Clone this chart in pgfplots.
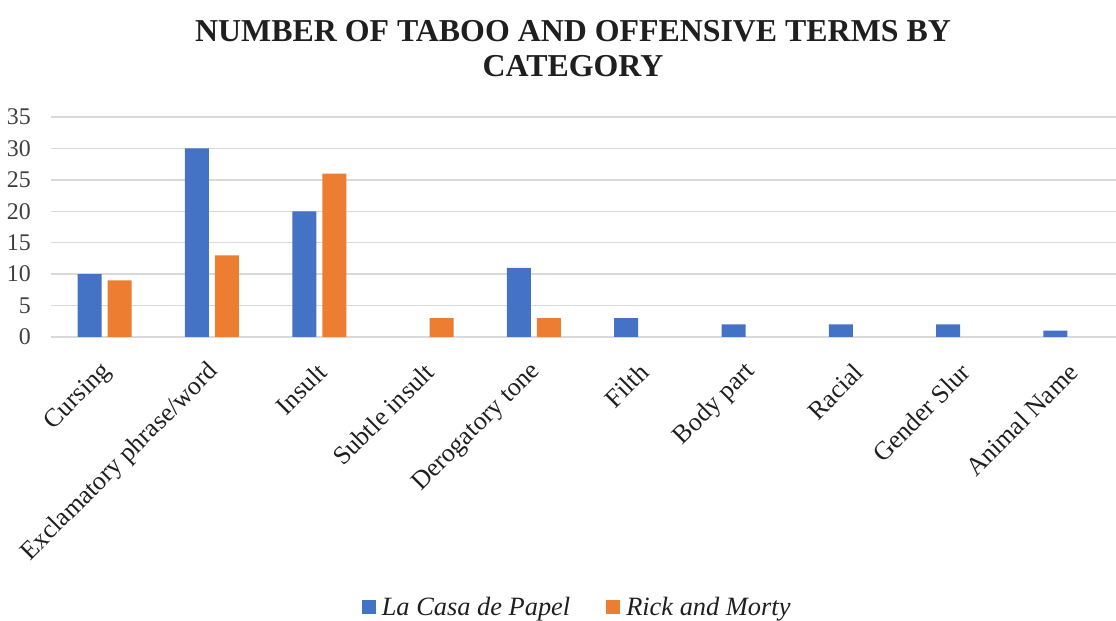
\documentclass[border=0pt]{standalone}
\usepackage{pgfplots}
\pgfplotsset{compat=1.18}
\usepackage{fontspec}
\setmainfont{Liberation Serif}
\definecolor{cblue}{HTML}{4472C4}
\definecolor{corange}{HTML}{ED7D31}
\definecolor{gridgray}{HTML}{D9D9D9}
\definecolor{ticktext}{HTML}{404040}
\definecolor{labeltext}{HTML}{1F1F1F}
\begin{document}
\begin{tikzpicture}[x=1bp,y=1bp]
\useasboundingbox (0,0) rectangle (1116,621);
\node[align=center, font=\fontsize{32}{35}\selectfont\bfseries, text=labeltext, anchor=north, inner sep=0]
  at (573,601) {NUMBER OF TABOO AND OFFENSIVE TERMS BY\\CATEGORY};
\begin{axis}[
  at={(51bp,284bp)}, anchor=south west,
  scale only axis, width=1065bp, height=220bp,
  ybar=6bp, bar width=24bp,
  xmin=-0.5, xmax=9.425,
  ymin=0, ymax=35, ytick={0,5,...,35},
  xtick={0,...,9},
  xticklabels={Cursing, Exclamatory phrase/word, Insult, Subtle insult, Derogatory tone, Filth, Body part, Racial, Gender Slur, Animal Name},
  axis line style={draw=none},
  major tick length=0pt,
  ymajorgrids, grid style={gridgray, line width=1.5bp},
  /pgf/number format/assume math mode=true,
  yticklabel style={font=\fontsize{24}{24}\selectfont, text=ticktext, inner sep=0, xshift=-20bp},
  xticklabel style={font=\fontsize{26}{26}\selectfont, text=labeltext, rotate=45, anchor=east, inner sep=0, yshift=-24bp, xshift=-20bp},
  legend columns=2,
  legend style={draw=none, at={(0.494,-1.227)}, anchor=center, font=\fontsize{26.5}{26.5}\selectfont\itshape, text=labeltext,
    /tikz/every odd column/.append style={column sep=4bp},
    /tikz/every even column/.append style={column sep=34bp}},
  legend image code/.code={\fill[#1] (0bp,-7bp) rectangle (14bp,7bp);},
  clip=false,
]
% categories with a count of zero are left out of each series
\addplot[fill=cblue, draw=none] coordinates {(0,10) (1,30) (2,20) (4,11) (5,3) (6,2) (7,2) (8,2) (9,1)};
\addplot[fill=corange, draw=none] coordinates {(0,9) (1,13) (2,26) (3,3) (4,3)};
\legend{La Casa de Papel, Rick and Morty}
\end{axis}
\end{tikzpicture}
\end{document}
